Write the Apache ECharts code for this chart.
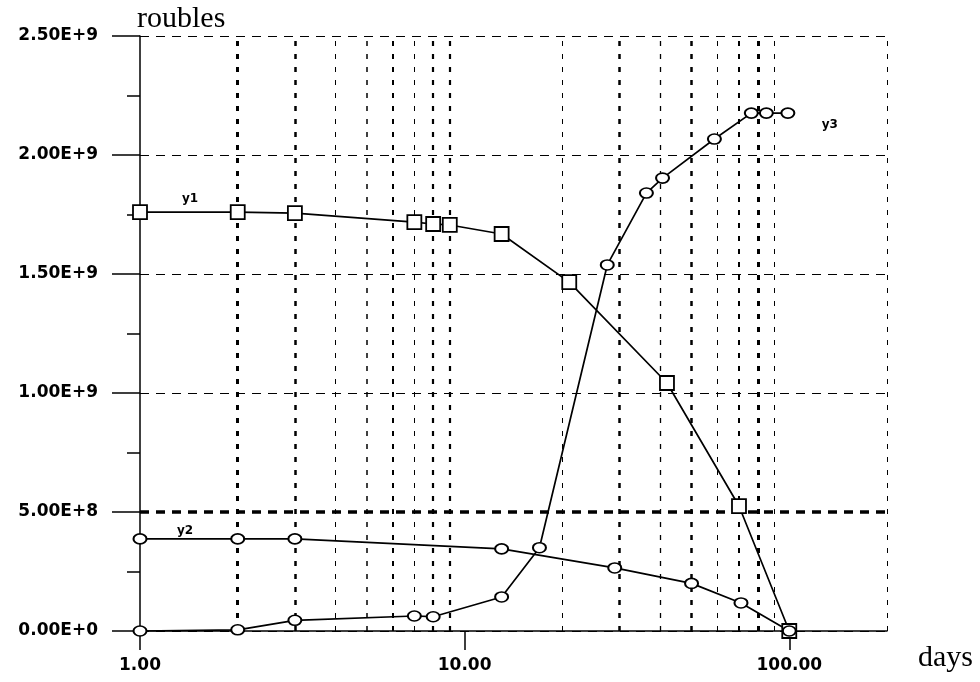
<!DOCTYPE html>
<html>
<head>
<meta charset="utf-8">
<script src="https://cdn.jsdelivr.net/npm/echarts@6/dist/echarts.min.js"></script>
<style>
  html, body { margin: 0; padding: 0; background: #ffffff; }
  #chart { width: 980px; height: 682px; }
</style>
</head>
<body>
<div id="chart"></div>
<script>
// ---- data ----
const y1Days = [1, 2, 3, 7, 8, 9, 13, 21, 42, 70, 100];
const y1Values = [1.76e9, 1.76e9, 1.756e9, 1.718e9, 1.71e9, 1.706e9, 1.668e9, 1.466e9, 1.042e9, 0.525e9, 0];

const y2Days = [1, 2, 3, 13, 29, 50, 71, 100];
const y2Values = [0.387e9, 0.387e9, 0.387e9, 0.345e9, 0.265e9, 0.2e9, 0.118e9, 0];

const y3Days = [1, 2, 3, 7, 8, 13, 17, 27.5, 36.3, 40.7, 58.8, 76.4, 85, 99];
const y3Values = [0, 0.005e9, 0.045e9, 0.063e9, 0.06e9, 0.143e9, 0.35e9, 1.538e9, 1.84e9, 1.903e9, 2.067e9, 2.176e9, 2.176e9, 2.176e9];

const seriesNames = ['y1', 'y2', 'y3'];
const gridDays = [2, 3, 4, 5, 6, 7, 8, 9, 20, 30, 40, 50, 60, 70, 80, 90, 200];
const yTicks = { min: 0, max: 2.5e9, interval: 5e8 };
const xRange = { min: 1, max: 200 };
const boldGridValue = 5e8;

// ---- styles ----
const gridWidthFor = { 2: 3, 3: 2.5, 4: 1, 5: 1.5, 6: 2, 7: 1, 8: 2.2, 9: 2.2,
  20: 1, 30: 2.5, 40: 1.3, 50: 2.5, 60: 1, 70: 2, 80: 3, 90: 1, 200: 1 };
const labelFont = { fontFamily: 'DejaVu Sans', fontWeight: 'bold', fontSize: 17, color: '#000' };

function pts(xs, ys) { return xs.map((x, i) => [x, ys[i]]); }

function withLabel(data, idx, text, offset) {
  const d = data.slice();
  d[idx] = {
    value: d[idx],
    label: { show: true, formatter: text, position: 'inside', offset: offset,
      fontFamily: 'DejaVu Sans', fontWeight: 'bold', fontSize: 12, color: '#000' }
  };
  return d;
}

const y1Data = withLabel(pts(y1Days, y1Values), 0, seriesNames[0], [50, -13]);
const y2Data = withLabel(pts(y2Days, y2Values), 0, seriesNames[1], [45, -8]);
const y3Data = withLabel(pts(y3Days, y3Values), y3Days.length - 1, seriesNames[2], [42, 12]);

const vGrid = gridDays.map(d => ({
  xAxis: d,
  lineStyle: { color: '#000', width: gridWidthFor[d] || 1, type: [5, 8] }
}));
vGrid.push({ yAxis: boldGridValue, lineStyle: { color: '#000', width: 3.5, type: [9, 7] } });

const chart = echarts.init(document.getElementById('chart'), null, { renderer: 'canvas' });

const lineCommon = {
  type: 'line',
  showAllSymbol: true,
  lineStyle: { color: '#000', width: 1.7 },
  itemStyle: { color: '#fff', borderColor: '#000', borderWidth: 1.8 },
  z: 5,
  silent: true,
  animation: false
};

chart.setOption({
  backgroundColor: '#fff',
  animation: false,
  grid: { left: 140, right: 93, top: 36, bottom: 51, containLabel: false },
  xAxis: {
    type: 'log',
    logBase: 10,
    min: xRange.min,
    max: xRange.max,
    name: 'days',
    nameLocation: 'end',
    nameGap: 31,
    nameTextStyle: { fontFamily: 'Liberation Serif', fontSize: 30, color: '#000',
      align: 'left', verticalAlign: 'top', padding: [12, 0, 0, 0] },
    axisLine: { show: true, lineStyle: { color: '#000', width: 1.5 } },
    axisTick: { show: true, length: 19, lineStyle: { color: '#000', width: 1.5 } },
    axisLabel: Object.assign({}, labelFont, {
      margin: 26,
      showMaxLabel: false,
      formatter: v => {
        const l = Math.log10(v);
        return Math.abs(l - Math.round(l)) < 1e-6 ? v.toFixed(2) : '';
      }
    }),
    splitLine: { show: false },
    minorTick: { show: false },
    minorSplitLine: { show: false }
  },
  yAxis: {
    type: 'value',
    min: yTicks.min,
    max: yTicks.max,
    interval: yTicks.interval,
    name: 'roubles',
    nameLocation: 'end',
    nameGap: 2,
    nameTextStyle: { fontFamily: 'Liberation Serif', fontSize: 30, color: '#000',
      align: 'left', verticalAlign: 'bottom', padding: [0, 0, 0, -3] },
    axisLine: { show: true, lineStyle: { color: '#000', width: 1.5 } },
    axisTick: { show: true, length: 28, lineStyle: { color: '#000', width: 1.5 } },
    minorTick: { show: true, splitNumber: 2, length: 13, lineStyle: { color: '#000', width: 1.5 } },
    axisLabel: Object.assign({}, labelFont, {
      margin: 42,
      formatter: v => v.toExponential(2).replace('e', 'E')
    }),
    splitLine: { show: true, lineStyle: { color: '#000', width: 1.2, type: [9, 7] } }
  },
  series: [
    {
      type: 'line',
      name: 'grid',
      data: [],
      silent: true,
      z: 1,
      symbol: 'none',
      markLine: {
        silent: true,
        symbol: ['none', 'none'],
        label: { show: false },
        animation: false,
        data: vGrid
      }
    },
    Object.assign({}, lineCommon, {
      name: seriesNames[0],
      data: y1Data,
      symbol: 'rect',
      symbolSize: 14
    }),
    Object.assign({}, lineCommon, {
      name: seriesNames[1],
      data: y2Data,
      symbol: 'circle',
      symbolSize: [13, 10]
    }),
    Object.assign({}, lineCommon, {
      name: seriesNames[2],
      data: y3Data,
      symbol: 'circle',
      symbolSize: [13, 10]
    })
  ]
});
</script>
</body>
</html>
